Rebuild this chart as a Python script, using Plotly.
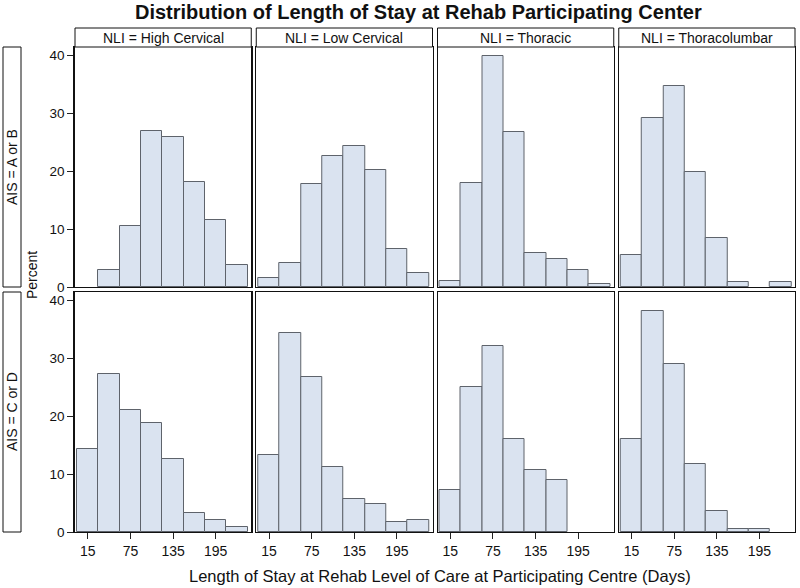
import plotly.graph_objects as go

# ---- data ----
bin_centers = [15, 45, 75, 105, 135, 165, 195, 225]
tick_vals = [15, 75, 135, 195]
nli_groups = ["NLI = High Cervical", "NLI = Low Cervical", "NLI = Thoracic", "NLI = Thoracolumbar"]
ais_groups = ["AIS = A or B", "AIS = C or D"]

ab_high_cervical = [0, 2.9, 10.6, 26.9, 25.9, 18.2, 11.5, 3.8]
ab_low_cervical = [1.6, 4.1, 17.8, 22.7, 24.3, 20.3, 6.5, 2.5]
ab_thoracic = [1.0, 18.0, 39.9, 26.8, 5.8, 4.9, 2.9, 0.5]
ab_thoracolumbar = [5.6, 29.2, 34.8, 19.8, 8.4, 0.9, 0, 0.9]

cd_high_cervical = [14.3, 27.3, 21.1, 18.8, 12.7, 3.3, 2.0, 0.8]
cd_low_cervical = [13.4, 34.4, 26.8, 11.2, 5.7, 4.8, 1.7, 2.1]
cd_thoracic = [7.2, 25.0, 32.2, 16.1, 10.7, 9.0, 0, 0]
cd_thoracolumbar = [16.0, 38.2, 29.0, 11.7, 3.7, 0.6, 0.6, 0]

rows = [
    [ab_high_cervical, ab_low_cervical, ab_thoracic, ab_thoracolumbar],
    [cd_high_cervical, cd_low_cervical, cd_thoracic, cd_thoracolumbar],
]

# ---- layout geometry (pixels) ----
W, H = 800, 588
ML, MR, MT, MB = 75, 5, 47, 56
PW = W - ML - MR
PH = H - MT - MB

def px_x(p):
    return (p - ML) / PW

def px_y(p):
    return (H - MB - p) / PH

col_w = (PW - 15) / 4.0
col_domains = []
for c in range(4):
    x0 = c * (col_w + 5)
    col_domains.append([x0 / PW, (x0 + col_w) / PW])
row_h = (PH - 5) / 2.0
row_domains = [[(row_h + 5) / PH, 1.0], [0.0, row_h / PH]]

FILL = "#DAE3F0"
EDGE = "#5E636B"
FONT = "Liberation Sans, Arial, sans-serif"
TXT = "#111"

fig = go.Figure()
layout = {}
idx = 0
for r in range(2):
    for c in range(4):
        idx += 1
        xa = "x" if idx == 1 else f"x{idx}"
        ya = "y" if idx == 1 else f"y{idx}"
        vals = [v if v > 0 else None for v in rows[r][c]]
        fig.add_trace(go.Bar(
            x=bin_centers, y=vals, width=30,
            marker=dict(color=FILL, line=dict(color=EDGE, width=1)),
            xaxis=xa, yaxis=ya, showlegend=False, hoverinfo="x+y"))
        xkey = "xaxis" if idx == 1 else f"xaxis{idx}"
        ykey = "yaxis" if idx == 1 else f"yaxis{idx}"
        layout[xkey] = dict(
            domain=col_domains[c], anchor=ya, range=[-3, 245],
            tickvals=tick_vals, showticklabels=(r == 1),
            ticks="outside" if r == 1 else "", ticklen=6, tickcolor="#222",
            showline=True, mirror=True, linecolor="#111", linewidth=1,
            showgrid=False, zeroline=False,
            tickfont=dict(family=FONT, size=14, color=TXT))
        layout[ykey] = dict(
            domain=row_domains[r], anchor=xa, range=[0, 41.5],
            tickvals=[0, 10, 20, 30, 40], showticklabels=(c == 0),
            ticks="outside" if c == 0 else "", ticklen=6, tickcolor="#222",
            showline=True, mirror=True, linecolor="#111",
            linewidth=1.5 if c == 0 else 1,
            showgrid=False, zeroline=False,
            tickfont=dict(family=FONT, size=13.5, color=TXT))

shapes = []
annotations = []
# column strips
for c in range(4):
    x0, x1 = col_domains[c]
    shapes.append(dict(type="rect", xref="paper", yref="paper",
                       x0=x0, x1=x1, y0=1.0, y1=px_y(28),
                       line=dict(color="#111", width=1), fillcolor="white"))
    annotations.append(dict(text=nli_groups[c], xref="paper", yref="paper",
                            x=(x0 + x1) / 2, y=(1.0 + px_y(28)) / 2,
                            showarrow=False, xanchor="center", yanchor="middle",
                            font=dict(family=FONT, size=14, color=TXT)))
# row strips
for r in range(2):
    y0, y1 = row_domains[r]
    shapes.append(dict(type="rect", xref="paper", yref="paper",
                       x0=px_x(3), x1=px_x(21), y0=y0, y1=y1,
                       line=dict(color="#111", width=1), fillcolor="white"))
    annotations.append(dict(text=ais_groups[r], xref="paper", yref="paper",
                            x=px_x(12), y=(y0 + y1) / 2, textangle=-90,
                            showarrow=False, xanchor="center", yanchor="middle",
                            font=dict(family=FONT, size=14, color=TXT)))

annotations.append(dict(text="Percent", xref="paper", yref="paper",
                        x=px_x(32), y=px_y(275), textangle=-90, showarrow=False,
                        xanchor="center", yanchor="middle",
                        font=dict(family=FONT, size=14, color=TXT)))
annotations.append(dict(text="Length of Stay at Rehab Level of Care at Participating Centre (Days)",
                        xref="paper", yref="paper", x=px_x(440), y=px_y(576),
                        showarrow=False, xanchor="center", yanchor="middle",
                        font=dict(family=FONT, size=16.5, color=TXT)))
annotations.append(dict(text="<b>Distribution of Length of Stay at Rehab Participating Center</b>",
                        xref="paper", yref="paper", x=px_x(418), y=px_y(12),
                        showarrow=False, xanchor="center", yanchor="middle",
                        font=dict(family=FONT, size=20, color=TXT)))

fig.update_layout(
    width=W, height=H,
    margin=dict(l=ML, r=MR, t=MT, b=MB),
    paper_bgcolor="white", plot_bgcolor="white",
    barmode="overlay", bargap=0,
    shapes=shapes, annotations=annotations,
    **layout)

fig.write_html("out.html", config={"displayModeBar": False},
               post_script="document.body.style.margin='0px';")
